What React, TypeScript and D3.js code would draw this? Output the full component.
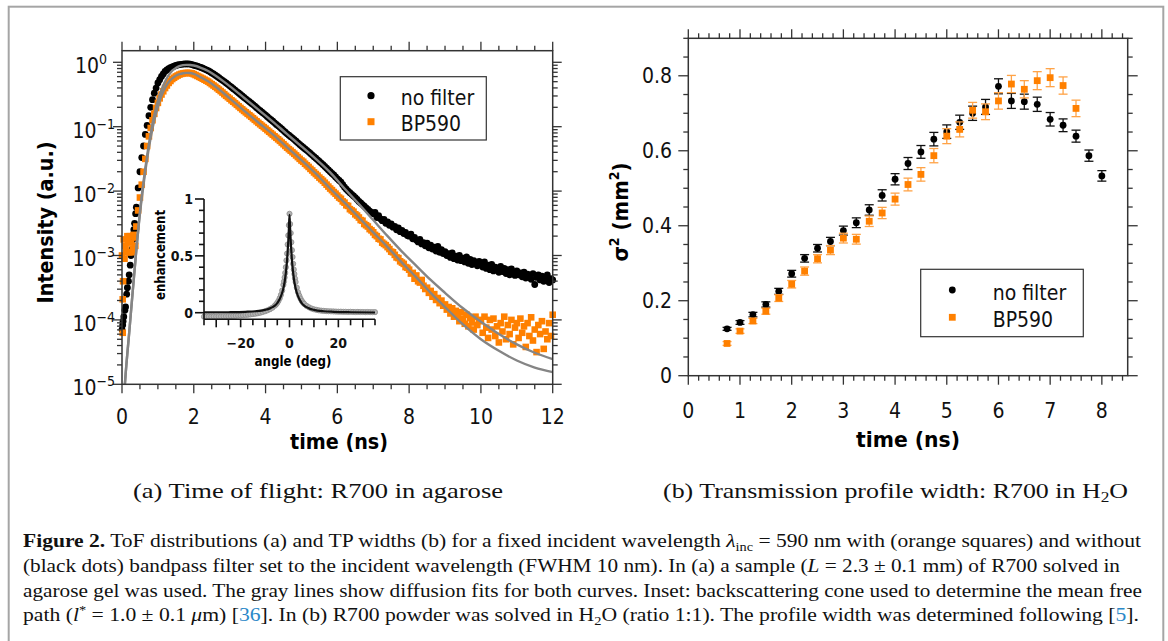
import React from 'react';
import * as d3 from 'd3';

// ---- panel (a): time of flight, values are log10(intensity) ----
const TIME = d3.range(241).map(i => i / 20); // 0 .. 12 ns, 0.05 ns steps

const NO_FILTER_LOG = [
  -4.15, -3.95, -3.8, -3.5, -3.3, -3.0, -2.75, -2.5, -2.25, -1.95, -1.7, -1.48, -1.3, -1.12, -0.98, -0.83, -0.7, -0.58, -0.48, -0.4,
  -0.32, -0.27, -0.22, -0.18, -0.14, -0.12, -0.1, -0.085, -0.07, -0.06, -0.05, -0.042, -0.035, -0.031, -0.028, -0.026, -0.025, -0.025, -0.027, -0.035,
  -0.045, -0.052, -0.06, -0.07, -0.08, -0.092, -0.105, -0.117, -0.13, -0.147, -0.165, -0.182, -0.2, -0.22, -0.24, -0.26, -0.28, -0.3, -0.32, -0.342,
  -0.365, -0.387, -0.41, -0.432, -0.455, -0.477, -0.5, -0.522, -0.545, -0.567, -0.59, -0.612, -0.635, -0.657, -0.68, -0.705, -0.73, -0.752, -0.775, -0.797,
  -0.82, -0.845, -0.87, -0.892, -0.915, -0.94, -0.965, -0.987, -1.01, -1.035, -1.06, -1.085, -1.11, -1.132, -1.155, -1.177, -1.2, -1.225, -1.25, -1.275,
  -1.3, -1.322, -1.345, -1.367, -1.39, -1.415, -1.44, -1.465, -1.49, -1.515, -1.54, -1.565, -1.59, -1.617, -1.645, -1.672, -1.7, -1.725, -1.75, -1.78,
  -1.81, -1.835, -1.86, -1.9, -1.94, -1.97, -2.0, -2.025, -2.05, -2.075, -2.1, -2.13, -2.16, -2.185, -2.21, -2.235, -2.26, -2.285, -2.31, -2.33,
  -2.35, -2.33, -2.41, -2.38, -2.43, -2.46, -2.44, -2.5, -2.48, -2.53, -2.51, -2.56, -2.55, -2.6, -2.57, -2.63, -2.61, -2.66, -2.64, -2.69,
  -2.7, -2.67, -2.74, -2.72, -2.76, -2.79, -2.75, -2.82, -2.8, -2.85, -2.81, -2.88, -2.84, -2.9, -2.87, -2.93, -2.86, -2.95, -2.91, -2.97,
  -2.94, -3.0, -2.97, -3.03, -2.96, -3.05, -3.01, -3.07, -3.0, -3.08, -3.04, -3.1, -3.02, -3.12, -3.06, -3.14, -3.08, -3.11, -3.16, -3.09,
  -3.13, -3.18, -3.1, -3.2, -3.15, -3.22, -3.14, -3.24, -3.18, -3.21, -3.26, -3.17, -3.25, -3.2, -3.28, -3.22, -3.3, -3.21, -3.27, -3.31,
  -3.24, -3.3, -3.27, -3.33, -3.26, -3.35, -3.29, -3.32, -3.37, -3.28, -3.45, -3.34, -3.3, -3.38, -3.32, -3.4, -3.35, -3.3, -3.42, -3.36,
  -3.38,
];

const BP590_LOG = [
  -3.0, -2.75, -2.85, -2.7, -2.95, -2.8, -2.9, -2.72, -2.55, -2.3, -2.1, -1.9, -1.7, -1.5, -1.3, -1.15, -1.02, -0.9, -0.8, -0.71,
  -0.63, -0.56, -0.5, -0.45, -0.4, -0.36, -0.32, -0.29, -0.26, -0.24, -0.22, -0.205, -0.19, -0.18, -0.173, -0.168, -0.165, -0.165, -0.167, -0.172,
  -0.185, -0.198, -0.212, -0.226, -0.24, -0.255, -0.27, -0.285, -0.3, -0.32, -0.34, -0.36, -0.38, -0.402, -0.425, -0.447, -0.47, -0.495, -0.52, -0.542,
  -0.565, -0.59, -0.612, -0.636, -0.66, -0.684, -0.708, -0.731, -0.755, -0.777, -0.8, -0.822, -0.845, -0.869, -0.893, -0.916, -0.94, -0.962, -0.985, -1.007,
  -1.03, -1.054, -1.078, -1.101, -1.125, -1.149, -1.172, -1.196, -1.22, -1.246, -1.272, -1.299, -1.325, -1.349, -1.372, -1.396, -1.42, -1.446, -1.472, -1.499,
  -1.525, -1.545, -1.575, -1.6, -1.625, -1.655, -1.68, -1.71, -1.735, -1.76, -1.79, -1.815, -1.84, -1.87, -1.9, -1.93, -1.96, -1.985, -2.015, -2.04,
  -2.07, -2.1, -2.12, -2.16, -2.18, -2.22, -2.23, -2.28, -2.3, -2.32, -2.36, -2.38, -2.41, -2.45, -2.46, -2.51, -2.53, -2.55, -2.59, -2.61,
  -2.64, -2.68, -2.7, -2.74, -2.75, -2.8, -2.82, -2.84, -2.87, -2.9, -2.94, -2.95, -2.99, -3.03, -3.04, -3.09, -3.11, -3.13, -3.18, -3.19,
  -3.22, -3.28, -3.27, -3.36, -3.31, -3.4, -3.42, -3.38, -3.47, -3.52, -3.5, -3.58, -3.55, -3.64, -3.6, -3.69, -3.66, -3.74, -3.7, -3.78,
  -3.76, -3.84, -3.8, -3.9, -3.82, -3.95, -3.86, -3.93, -4.02, -3.88, -3.98, -4.06, -3.92, -4.1, -3.97, -4.04, -4.15, -3.95, -4.08, -4.0,
  -4.02, -4.2, -3.95, -4.12, -4.28, -4.0, -4.15, -3.98, -4.25, -4.1, -4.35, -4.05, -4.18, -3.95, -4.3, -4.08, -4.22, -4.0, -4.38, -4.12,
  -4.05, -4.28, -3.98, -4.2, -4.1, -4.42, -4.05, -4.25, -3.96, -4.32, -4.15, -4.5, -4.08, -4.22, -4.02, -4.45, -4.18, -4.3, -4.05, -4.25,
  -3.92,
];

// extra early samples where the rising edge is steep
const NO_FILTER_EARLY_T = [0.02, 0.03, 0.08, 0.13, 0.18, 0.23, 0.28, 0.33, 0.38];
const NO_FILTER_EARLY_LOG = [-4.08, -4.02, -3.85, -3.6, -3.4, -3.15, -2.9, -2.6, -2.35];
const BP590_EARLY_T = [0.02, 0.02, 0.03, 0.07, 0.12, 0.17, 0.22, 0.27, 0.32, 0.37];
const BP590_EARLY_LOG = [-4.2, -3.68, -3.4, -3.05, -2.95, -2.78, -2.7, -2.95, -2.68, -2.85];

// gray diffusion fits
const FIT_T = [
  0.08, 0.1, 0.2, 0.3, 0.4, 0.5, 0.6, 0.7, 0.8, 0.9, 1.0, 1.1, 1.2, 1.3, 1.4, 1.5,
  1.6, 1.7, 1.8, 1.9, 2.0, 2.2, 2.4, 2.6, 2.8, 3.0, 3.4, 3.8, 4.2, 4.6, 5.0, 5.4,
  5.8, 6.2, 6.6, 7.0, 7.4, 7.8, 8.2, 8.6, 9.0, 9.5, 10.0, 10.5, 11.0, 11.5, 12.0,
];
const NO_FILTER_FIT_LOG = [
  -5.0, -4.85, -4.2, -3.55, -2.9, -2.32, -1.85, -1.45, -1.1, -0.82, -0.6, -0.43, -0.3, -0.2, -0.13, -0.09,
  -0.06, -0.045, -0.04, -0.042, -0.05, -0.085, -0.135, -0.205, -0.285, -0.37, -0.55, -0.735, -0.92, -1.115, -1.305, -1.5,
  -1.71, -1.96, -2.2, -2.45, -2.7, -2.94, -3.16, -3.38, -3.58, -3.82, -4.03, -4.22, -4.38, -4.51, -4.61,
];
const BP590_FIT_LOG = [
  -5.0, -4.85, -4.2, -3.55, -2.92, -2.35, -1.9, -1.5, -1.17, -0.9, -0.69, -0.52, -0.4, -0.31, -0.25, -0.21,
  -0.185, -0.17, -0.165, -0.167, -0.18, -0.235, -0.295, -0.375, -0.465, -0.56, -0.75, -0.935, -1.12, -1.32, -1.52, -1.73,
  -1.96, -2.18, -2.41, -2.64, -2.87, -3.11, -3.34, -3.58, -3.8, -4.07, -4.3, -4.48, -4.63, -4.74, -4.81,
];

// inset: backscattering cone
const CONE_ANGLE = [
  -35, -34, -33, -32, -31, -30, -29, -28, -27, -26, -25, -24, -23, -22, -21, -20, -19, -18, -17, -16,
  -15, -14, -13, -12, -11, -10, -9, -8, -7, -6, -5.5, -5, -4.5, -4, -3.5, -3, -2.5, -2.25, -2, -1.75,
  -1.5, -1.25, -1, -0.75, -0.5, -0.25, 0, 0.25, 0.5, 0.75, 1, 1.25, 1.5, 1.75, 2, 2.25, 2.5, 3, 3.5, 4,
  4.5, 5, 5.5, 6, 7, 8, 9, 10, 11, 12, 13, 14, 15, 16, 17, 18, 19, 20, 21, 22,
  23, 24, 25, 26, 27, 28, 29, 30, 31, 32, 33, 34, 35,
];
const CONE_VALUE = [
  -0.035, -0.036, -0.034, -0.035, -0.033, -0.034, -0.032, -0.033, -0.031, -0.031, -0.03, -0.029, -0.028, -0.027, -0.025, -0.024, -0.022, -0.02, -0.018, -0.015,
  -0.012, -0.009, -0.005, 0.0, 0.006, 0.013, 0.021, 0.031, 0.044, 0.062, 0.073, 0.087, 0.105, 0.128, 0.157, 0.195, 0.245, 0.275, 0.31, 0.35,
  0.4, 0.46, 0.52, 0.6, 0.68, 0.77, 0.87, 0.78, 0.7, 0.62, 0.55, 0.49, 0.43, 0.38, 0.34, 0.3, 0.27, 0.22, 0.18, 0.15,
  0.125, 0.105, 0.09, 0.078, 0.06, 0.047, 0.037, 0.03, 0.025, 0.021, 0.018, 0.016, 0.014, 0.013, 0.012, 0.011, 0.01, 0.009, 0.009, 0.008,
  0.008, 0.007, 0.008, 0.007, 0.006, 0.007, 0.006, 0.006, 0.005, 0.006, 0.005, 0.005, 0.005,
];
const CONE_FIT_ANGLE = [-35, -25, -18, -14, -10, -8, -6, -5, -4, -3, -2.5, -2, -1.5, -1.25, -1, -0.75, -0.5, -0.25, 0,
  0.25, 0.5, 0.75, 1, 1.25, 1.5, 2, 2.5, 3, 4, 5, 6, 8, 10, 14, 18, 25, 35];
const CONE_FIT_VALUE = [0.002, 0.004, 0.008, 0.013, 0.025, 0.038, 0.062, 0.085, 0.12, 0.175, 0.215, 0.27, 0.35, 0.4, 0.46, 0.54, 0.63, 0.74, 0.86,
  0.74, 0.63, 0.54, 0.46, 0.4, 0.35, 0.27, 0.215, 0.175, 0.12, 0.085, 0.062, 0.038, 0.025, 0.013, 0.008, 0.004, 0.002];

// ---- panel (b): transmission profile width ----
const TP_TIME = [0.75, 1, 1.25, 1.5, 1.75, 2, 2.25, 2.5, 2.75, 3, 3.25, 3.5, 3.75, 4, 4.25, 4.5, 4.75, 5, 5.25, 5.5,
  5.75, 6, 6.25, 6.5, 6.75, 7, 7.25, 7.5, 7.75, 8];
const NO_FILTER_SIGMA = [0.125, 0.142, 0.163, 0.19, 0.225, 0.272, 0.313, 0.34, 0.358, 0.387,
  0.408, 0.442, 0.481, 0.524, 0.566, 0.597, 0.631, 0.651, 0.676, 0.7,
  0.717, 0.772, 0.733, 0.731, 0.724, 0.684, 0.668, 0.639, 0.587, 0.533];
const NO_FILTER_ERR = [0.004, 0.005, 0.006, 0.007, 0.008, 0.009, 0.01, 0.01, 0.011, 0.012,
  0.013, 0.014, 0.015, 0.015, 0.016, 0.017, 0.018, 0.018, 0.019, 0.019,
  0.02, 0.02, 0.02, 0.02, 0.019, 0.018, 0.017, 0.016, 0.015, 0.014];
const BP590_SIGMA = [0.086, 0.119, 0.146, 0.172, 0.207, 0.244, 0.279, 0.312, 0.335, 0.367,
  0.364, 0.412, 0.434, 0.471, 0.51, 0.537, 0.587, 0.639, 0.657, 0.708,
  0.704, 0.733, 0.778, 0.764, 0.787, 0.795, 0.774, 0.713];
const BP590_ERR = [0.005, 0.006, 0.007, 0.008, 0.009, 0.01, 0.011, 0.011, 0.012, 0.013,
  0.013, 0.014, 0.015, 0.016, 0.017, 0.018, 0.019, 0.02, 0.02, 0.021,
  0.021, 0.022, 0.023, 0.023, 0.024, 0.024, 0.023, 0.022];

const SERIES = ['no filter', 'BP590'];

const ORANGE = '#ff8000';
const ORANGE_ERR = '#ffa347';
const GRAY = '#858585';
const AXIS = '#333';
const SANS = "'DejaVu Sans Condensed', 'DejaVu Sans', sans-serif";
const SERIF = "'Liberation Serif', 'Times New Roman', serif";

const p10 = (v: number) => Math.pow(10, v);

export default function App() {
  // panel (a)
  const x = d3.scaleLinear().domain([0, 12]).range([122, 552.7]);
  const y = d3.scaleLog().domain([1e-5, p10(0.18)]).range([384.3, 50.7]);
  const fitLine = d3.line<[number, number]>()
    .x(d => x(d[0])).y(d => y(p10(d[1]))).curve(d3.curveMonotoneX);

  // inset
  const xi = d3.scaleLinear().domain([-35, 35]).range([204, 375]);
  const yi = d3.scaleLinear().domain([-0.058, 1]).range([319.3, 199]);
  const coneLine = d3.line<[number, number]>()
    .x(d => xi(d[0])).y(d => yi(d[1])).curve(d3.curveMonotoneX);

  // panel (b)
  const xb = d3.scaleLinear().domain([0, 8.5]).range([688.3, 1127.7]);
  const yb = d3.scaleLinear().domain([0, 0.9]).range([375.7, 38.3]);

  const [ax0, ax1] = x.range();
  const [ay0, ay1] = y.range();
  const [bx0, bx1] = xb.range();
  const [by0, by1] = yb.range();

  const xTicks = x.ticks(24);
  const yTicks = y.ticks();
  const isDecade = (v: number) => Math.abs(Math.log10(v) - Math.round(Math.log10(v))) < 1e-6;
  const bxTicks = d3.range(0, 43).map(i => i / 5);
  const byTicks = yb.ticks(18);
  const near = (v: number, step: number) => Math.abs(v / step - Math.round(v / step)) < 1e-6;

  const sq = 6.6;
  const rr = 3.4;

  return (
    <svg width={1168} height={641} style={{ position: 'absolute', left: 0, top: 0, background: '#fff' }}
      fontFamily={SANS}>
      <rect x={8.7} y={6.7} width={1154.6} height={700} fill="none" stroke="#a5a5a5" strokeWidth={2} />

      {/* ---------- panel (a) ---------- */}
      <g>
        <g fill="#000">
          {TIME.map((t, i) => <circle key={'n' + i} cx={x(t)} cy={y(p10(NO_FILTER_LOG[i]))} r={rr} />)}
          {NO_FILTER_EARLY_T.map((t, i) => <circle key={'ne' + i} cx={x(t)} cy={y(p10(NO_FILTER_EARLY_LOG[i]))} r={rr} />)}
        </g>
        <g fill={ORANGE}>
          {TIME.map((t, i) => <rect key={'b' + i} x={x(t) - sq / 2} y={y(p10(BP590_LOG[i])) - sq / 2} width={sq} height={sq} />)}
          {BP590_EARLY_T.map((t, i) => <rect key={'be' + i} x={x(t) - sq / 2} y={y(p10(BP590_EARLY_LOG[i])) - sq / 2} width={sq} height={sq} />)}
        </g>
        <path d={fitLine(FIT_T.map((t, i) => [t, NO_FILTER_FIT_LOG[i]] as [number, number])) || ''} fill="none" stroke={GRAY} strokeWidth={2.4} />
        <path d={fitLine(FIT_T.map((t, i) => [t, BP590_FIT_LOG[i]] as [number, number])) || ''} fill="none" stroke={GRAY} strokeWidth={2.4} />

        <rect x={ax0} y={ay1} width={ax1 - ax0} height={ay0 - ay1} fill="none" stroke={AXIS} strokeWidth={1.5} />
        <g stroke={AXIS} strokeWidth={1.3}>
          {xTicks.map(t => {
            const L = near(t, 2) ? 9 : 5;
            return <g key={'xt' + t}>
              <line x1={x(t)} x2={x(t)} y1={ay0} y2={ay0 + L} />
              <line x1={x(t)} x2={x(t)} y1={ay1} y2={ay1 - L} />
            </g>;
          })}
          {yTicks.map((v, i) => {
            const L = isDecade(v) ? 9 : 5;
            return <g key={'yt' + i}>
              <line x1={ax0 - L} x2={ax0} y1={y(v)} y2={y(v)} />
              <line x1={ax1} x2={ax1 + L} y1={y(v)} y2={y(v)} />
            </g>;
          })}
        </g>
        <g fontSize={21} fill="#111" textAnchor="middle">
          {xTicks.filter(t => near(t, 2)).map(t => <text key={'xl' + t} x={x(t)} y={424}>{t}</text>)}
        </g>
        <g fontSize={21} fill="#111" textAnchor="end">
          {yTicks.filter(isDecade).map((v, i) => {
            const e = Math.round(Math.log10(v));
            return <text key={'yl' + i} x={e === 0 ? 107 : 115} y={y(v) + 11}>10<tspan dy={-9} fontSize={14}>{e === 0 ? '0' : '\u2212' + (-e)}</tspan></text>;
          })}
        </g>
        <text x={339} y={449} fontSize={21.5} fontWeight="bold" textAnchor="middle" textLength={98} lengthAdjust="spacingAndGlyphs">time (ns)</text>
        <text transform="translate(53.3,222.5) rotate(-90)" fontSize={22} fontWeight="bold" textAnchor="middle" textLength={162} lengthAdjust="spacingAndGlyphs">Intensity (a.u.)</text>

        <rect x={340.3} y={76.7} width={146} height={63.3} fill="#fff" stroke={AXIS} strokeWidth={1.2} />
        <circle cx={371} cy={95.7} r={3.6} fill="#000" />
        <rect x={371 - 3.5} y={121.7 - 3.5} width={7} height={7} fill={ORANGE} />
        <text x={400.7} y={105} fontSize={21} fill="#111">{SERIES[0]}</text>
        <text x={400.7} y={130.7} fontSize={21} fill="#111">{SERIES[1]}</text>

        {/* inset */}
        <g>
          {CONE_ANGLE.map((a, i) => <circle key={'c' + i} cx={xi(a)} cy={yi(CONE_VALUE[i])} r={2.6} fill="#b3b3b3" stroke="#8c8c8c" strokeWidth={0.8} />)}
          <path d={coneLine(CONE_FIT_ANGLE.map((a, i) => [a, CONE_FIT_VALUE[i]] as [number, number])) || ''} fill="none" stroke="#111" strokeWidth={2.2} />
          <g stroke="#111" strokeWidth={1.6}>
            <line x1={xi(-35)} x2={xi(35)} y1={yi(-0.058)} y2={yi(-0.058)} />
            <line x1={xi(-35)} x2={xi(-35)} y1={yi(-0.058)} y2={yi(1)} />
            {d3.range(-35, 36, 5).map(a => (
              <line key={'it' + a} x1={xi(a)} x2={xi(a)} y1={yi(-0.058)} y2={yi(-0.058) + (near(a, 10) ? 8 : 6)} />
            ))}
            {d3.range(0, 11).map(k => (
              <line key={'iy' + k} x1={xi(-35) - (k % 5 === 0 ? 9 : 5)} x2={xi(-35)} y1={yi(k / 10)} y2={yi(k / 10)} />
            ))}
          </g>
          <g fontSize={14} fontWeight="bold" fill="#111" textAnchor="middle">
            {[-20, 0, 20].map(a => <text key={'il' + a} x={xi(a)} y={348.3}>{a < 0 ? '\u2212' + (-a) : a}</text>)}
          </g>
          <g fontSize={14} fontWeight="bold" fill="#111" textAnchor="end">
            {[0, 0.5, 1].map(v => <text key={'iyl' + v} x={193} y={yi(v) + 5}>{v}</text>)}
          </g>
          <text x={293} y={365.5} fontSize={14} fontWeight="bold" textAnchor="middle" textLength={77} lengthAdjust="spacingAndGlyphs">angle (deg)</text>
          <text transform="translate(165,255) rotate(-90)" fontSize={14} fontWeight="bold" textAnchor="middle" textLength={90} lengthAdjust="spacingAndGlyphs">enhancement</text>
        </g>
      </g>

      {/* ---------- panel (b) ---------- */}
      <g>
        <g stroke="#111" strokeWidth={1.3}>
          {TP_TIME.map((t, i) => {
            const lo = yb(NO_FILTER_SIGMA[i] - NO_FILTER_ERR[i]);
            const hi = yb(NO_FILTER_SIGMA[i] + NO_FILTER_ERR[i]);
            return <g key={'ne' + i}>
              <line x1={xb(t)} x2={xb(t)} y1={lo} y2={hi} />
              <line x1={xb(t) - 4.5} x2={xb(t) + 4.5} y1={lo} y2={lo} />
              <line x1={xb(t) - 4.5} x2={xb(t) + 4.5} y1={hi} y2={hi} />
            </g>;
          })}
        </g>
        {TP_TIME.map((t, i) => <circle key={'nd' + i} cx={xb(t)} cy={yb(NO_FILTER_SIGMA[i])} r={3.4} fill="#000" />)}
        <g stroke={ORANGE_ERR} strokeWidth={1.3}>
          {BP590_SIGMA.map((s, i) => {
            const t = TP_TIME[i];
            const lo = yb(s - BP590_ERR[i]);
            const hi = yb(s + BP590_ERR[i]);
            return <g key={'be' + i}>
              <line x1={xb(t)} x2={xb(t)} y1={lo} y2={hi} />
              <line x1={xb(t) - 4.5} x2={xb(t) + 4.5} y1={lo} y2={lo} />
              <line x1={xb(t) - 4.5} x2={xb(t) + 4.5} y1={hi} y2={hi} />
            </g>;
          })}
        </g>
        {BP590_SIGMA.map((s, i) => <rect key={'bd' + i} x={xb(TP_TIME[i]) - 3.4} y={yb(s) - 3.4} width={6.8} height={6.8} fill={ORANGE} />)}

        <rect x={bx0} y={by1} width={bx1 - bx0} height={by0 - by1} fill="none" stroke={AXIS} strokeWidth={1.5} />
        <g stroke={AXIS} strokeWidth={1.3}>
          {bxTicks.map(t => {
            const L = near(t, 1) ? 9 : 5;
            return <g key={'bxt' + t}>
              <line x1={xb(t)} x2={xb(t)} y1={by0} y2={by0 + L} />
              <line x1={xb(t)} x2={xb(t)} y1={by1} y2={by1 - L} />
            </g>;
          })}
          {byTicks.map(v => {
            const L = near(v, 0.2) ? 10 : 5;
            return <g key={'byt' + v}>
              <line x1={bx0 - L} x2={bx0} y1={yb(v)} y2={yb(v)} />
              <line x1={bx1} x2={bx1 + L} y1={yb(v)} y2={yb(v)} />
            </g>;
          })}
        </g>
        <g fontSize={21} fill="#111" textAnchor="middle">
          {bxTicks.filter(t => near(t, 1)).map(t => <text key={'bxl' + t} x={xb(t)} y={417.7}>{t}</text>)}
        </g>
        <g fontSize={21} fill="#111" textAnchor="end">
          {byTicks.filter(v => near(v, 0.2)).map(v => <text key={'byl' + v} x={672} y={yb(v) + 7.5}>{v === 0 ? '0' : d3.format('.1f')(v)}</text>)}
        </g>
        <text x={908} y={447} fontSize={22} fontWeight="bold" textAnchor="middle" textLength={104} lengthAdjust="spacingAndGlyphs">time (ns)</text>
        <text transform="translate(628,212) rotate(-90)" fontSize={22} fontWeight="bold" textAnchor="middle">
          σ<tspan dy={-9} fontSize={14}>2</tspan><tspan dy={9}> (mm</tspan><tspan dy={-9} fontSize={14}>2</tspan><tspan dy={9}>)</tspan>
        </text>

        <rect x={920.7} y={269.3} width={162.6} height={67.4} fill="#fff" stroke={AXIS} strokeWidth={1.2} />
        <circle cx={952.3} cy={290} r={3.4} fill="#000" />
        <rect x={952.3 - 3.4} y={317.3 - 3.4} width={6.8} height={6.8} fill={ORANGE} />
        <text x={992.7} y={300} fontSize={21} fill="#111">{SERIES[0]}</text>
        <text x={992.7} y={326.7} fontSize={21} fill="#111">{SERIES[1]}</text>
      </g>

      {/* ---------- captions ---------- */}
      <g fontFamily={SERIF} fill="#111">
        <text x={133} y={498} fontSize={21} textLength={370} lengthAdjust="spacingAndGlyphs">(a)  Time of flight: R700 in agarose</text>
        <text x={663} y={498} fontSize={21} textLength={465} lengthAdjust="spacingAndGlyphs">(b)  Transmission profile width: R700 in H<tspan dy={4} fontSize={14}>2</tspan><tspan dy={-4}>O</tspan></text>

        <g fontSize={19.5}>
          <text x={23} y={547} textLength={1118} lengthAdjust="spacingAndGlyphs">
            <tspan fontWeight="bold">Figure 2.</tspan> ToF distributions (a) and TP widths (b) for a fixed incident wavelength <tspan fontStyle="italic">λ</tspan><tspan dy={4} fontSize={13}>inc</tspan><tspan dy={-4}> = 590 nm with (orange squares) and without</tspan>
          </text>
          <text x={23} y={572} textLength={1097} lengthAdjust="spacingAndGlyphs">
            (black dots) bandpass filter set to the incident wavelength (FWHM 10 nm). In (a) a sample (<tspan fontStyle="italic">L</tspan> = 2.3 ± 0.1 mm) of R700 solved in
          </text>
          <text x={23} y={597} textLength={1119} lengthAdjust="spacingAndGlyphs">
            agarose gel was used. The gray lines show diffusion fits for both curves. Inset: backscattering cone used to determine the mean free
          </text>
          <text x={23} y={621} textLength={1116} lengthAdjust="spacingAndGlyphs">
            path (<tspan fontStyle="italic">l</tspan><tspan dy={-7} fontSize={13}>*</tspan><tspan dy={7}> = 1.0 ± 0.1 </tspan><tspan fontStyle="italic">μ</tspan>m) [<tspan fill="#2b88c8">36</tspan>]. In (b) R700 powder was solved in H<tspan dy={4} fontSize={13}>2</tspan><tspan dy={-4}>O (ratio 1:1). The profile width was determined following [</tspan><tspan fill="#2b88c8">5</tspan>].
          </text>
        </g>
      </g>
    </svg>
  );
}
